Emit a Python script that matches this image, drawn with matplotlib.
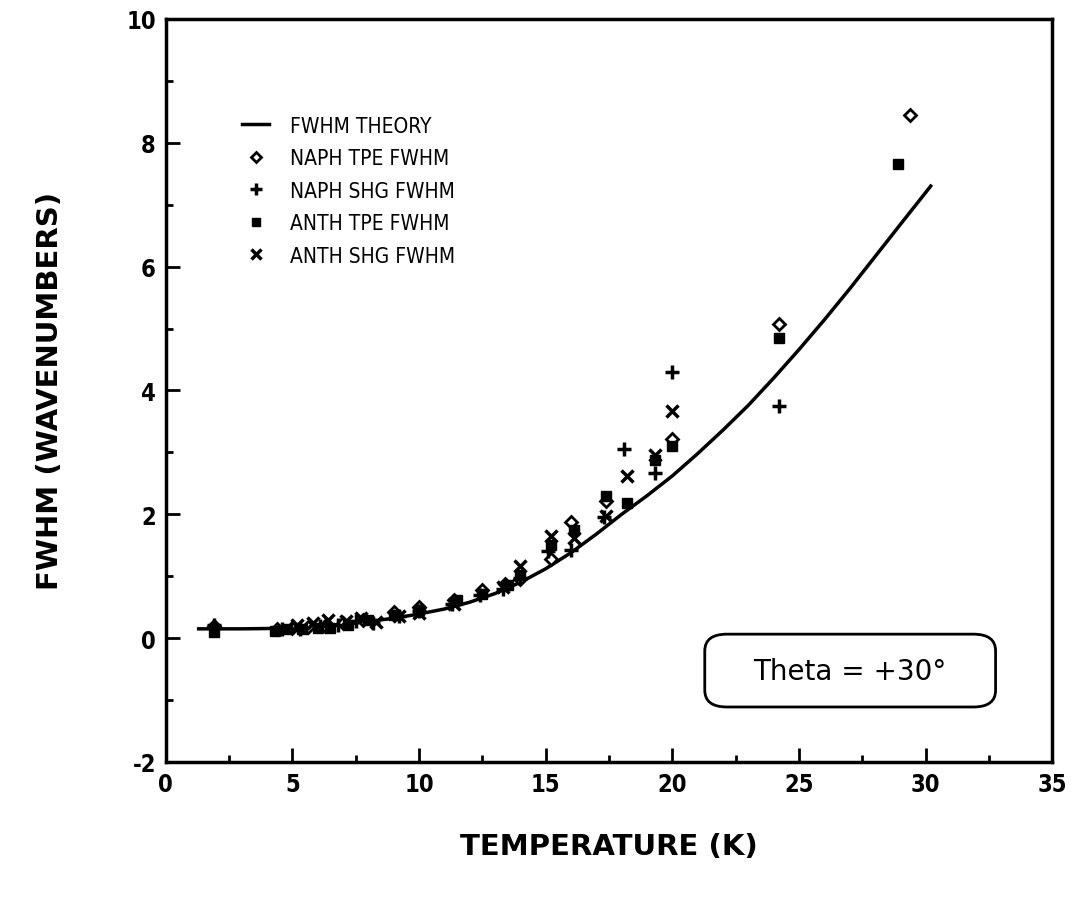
import numpy as np
import matplotlib
matplotlib.use("Agg")
import matplotlib.pyplot as plt
from matplotlib.patches import FancyBboxPatch

plt.rcParams['font.family'] = ['DejaVu Sans']
plt.rcParams['axes.unicode_minus'] = False

theory_T = [1.3, 3.0, 5.0, 6.0, 7.0, 8.0, 9.0, 10.0, 11.0, 12.0, 13.0, 14.0, 15.0,
            16.0, 17.0, 18.0, 19.0, 20.0, 21.0, 22.0, 23.0, 24.0, 25.0, 26.0,
            27.0, 28.0, 29.0, 30.2]
theory_fwhm = [0.15, 0.15, 0.16, 0.19, 0.22, 0.27, 0.32, 0.39, 0.47, 0.58, 0.72, 0.90, 1.12,
               1.38, 1.68, 2.00, 2.30, 2.62, 2.98, 3.36, 3.76, 4.20, 4.66, 5.14,
               5.64, 6.16, 6.68, 7.30]

# measured widths
naph_tpe_T = [1.9, 4.4, 5.0, 5.6, 6.3, 7.0, 7.8, 9.0, 10.0, 11.4, 12.5, 13.4, 14.0,
              15.2, 16.0, 17.4, 20.0, 24.2, 29.4]
naph_tpe = [0.20, 0.15, 0.16, 0.18, 0.20, 0.24, 0.30, 0.42, 0.50, 0.62, 0.78, 0.88, 0.96,
            1.27, 1.88, 2.22, 3.22, 5.08, 8.45]

naph_shg_T = [1.9, 4.6, 5.3, 6.1, 6.8, 7.5, 8.2, 9.2, 10.0, 11.3, 12.4, 13.3, 14.0,
              15.1, 16.0, 17.3, 18.1, 19.3, 20.0, 24.2]
naph_shg = [0.22, 0.14, 0.15, 0.20, 0.22, 0.27, 0.25, 0.36, 0.44, 0.55, 0.70, 0.80, 0.97,
            1.40, 1.42, 1.95, 3.05, 2.67, 4.30, 3.75]

anth_tpe_T = [1.9, 4.3, 4.8, 5.4, 6.0, 6.5, 7.2, 8.0, 9.0, 10.0, 11.5, 12.5, 13.5, 14.0,
              15.2, 16.1, 17.4, 18.2, 19.3, 20.0, 24.2, 28.9]
anth_tpe = [0.10, 0.12, 0.14, 0.15, 0.17, 0.16, 0.22, 0.30, 0.38, 0.45, 0.62, 0.72, 0.85, 1.02,
            1.50, 1.75, 2.30, 2.18, 2.88, 3.10, 4.84, 7.65]

anth_shg_T = [5.2, 5.8, 6.4, 7.1, 7.7, 8.3, 9.2, 10.0, 11.4, 13.3, 14.0, 15.2, 16.1,
              17.4, 18.2, 19.3, 20.0]
anth_shg = [0.22, 0.25, 0.30, 0.27, 0.32, 0.26, 0.35, 0.40, 0.55, 0.82, 1.17, 1.65, 1.62,
            1.97, 2.62, 2.95, 3.67]

fig = plt.figure(figsize=(10.76, 9.04), dpi=100)
ax = fig.add_axes([0.154, 0.156, 0.824, 0.822])

ax.plot(theory_T, theory_fwhm, color='black', lw=2.5, label='FWHM THEORY')
ax.plot(naph_tpe_T, naph_tpe, ls='none', marker='D', ms=6, mfc='white', mec='black',
        mew=2, label='NAPH TPE FWHM')
ax.plot(naph_shg_T, naph_shg, ls='none', marker='+', ms=10, mec='black', mew=2.5,
        label='NAPH SHG FWHM')
ax.plot(anth_tpe_T, anth_tpe, ls='none', marker='s', ms=7, mfc='black', mec='black',
        label='ANTH TPE FWHM')
ax.plot(anth_shg_T, anth_shg, ls='none', marker='x', ms=9, mec='black', mew=2.5,
        label='ANTH SHG FWHM')

ax.set_xlim(0, 35)
ax.set_ylim(-2, 10)
ax.set_xticks(np.arange(0, 36, 5))
ax.set_xticks(np.arange(0, 36, 2.5), minor=True)
ax.set_yticks(np.arange(-2, 11, 2))
ax.set_yticks(np.arange(-2, 11, 1), minor=True)
ax.tick_params(which='both', direction='in', width=2, labelsize=17)
ax.tick_params(which='major', length=10, pad=7)
ax.tick_params(which='minor', length=5)
for lab in ax.get_xticklabels() + ax.get_yticklabels():
    lab.set_fontweight('bold')
    lab.set_fontstretch('condensed')
for sp in ax.spines.values():
    sp.set_linewidth(2.5)

ax.set_xlabel('TEMPERATURE (K)', fontsize=21, fontweight='bold', labelpad=26)
ax.set_ylabel('FWHM (WAVENUMBERS)', fontsize=21, fontweight='bold', labelpad=45)

leg = ax.legend(loc='upper left', bbox_to_anchor=(0.065, 0.895), frameon=False,
                prop={'size': 15, 'stretch': 'condensed'}, markerscale=0.8,
                handlelength=1.3, handletextpad=1.0, labelspacing=0.6)

# annotation box with rounded corners
box = FancyBboxPatch((0.608, 0.074), 0.328, 0.098, transform=ax.transAxes,
                     boxstyle='round,pad=0,rounding_size=0.025', mutation_aspect=0.9,
                     fc='white', ec='black', lw=2)
ax.add_patch(box)
ax.text(0.772, 0.123, 'Theta = +30°', transform=ax.transAxes, ha='center',
        va='center', fontsize=20)

fig.savefig('out.png', dpi=100)
